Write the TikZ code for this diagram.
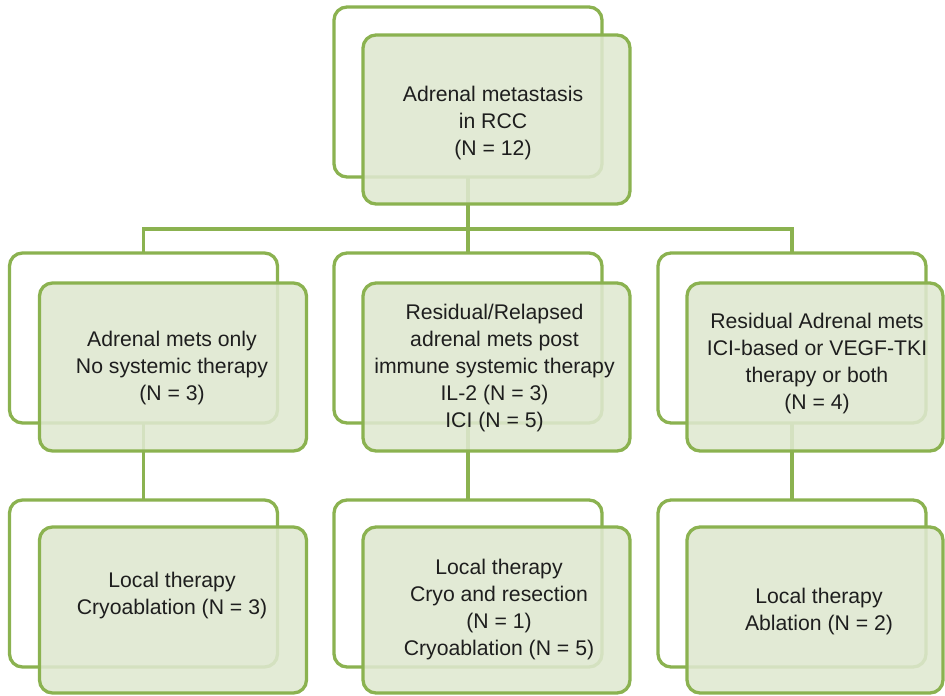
\documentclass[tikz,border=0pt]{standalone}
\usepackage{fontspec}
\setmainfont{Liberation Sans}
\definecolor{boxline}{RGB}{139,178,80}
\definecolor{boxfill}{RGB}{223,232,208}
\definecolor{txt}{RGB}{30,30,30}
\begin{document}
\begin{tikzpicture}[x=1pt,y=-1pt,
  backbox/.style={draw=boxline,line width=3.3pt,fill=white,rounded corners=13pt,
    rectangle,inner sep=0pt,outer sep=0pt,minimum width=268pt,minimum height=170pt},
  frontbox/.style={draw=boxline,line width=3.3pt,fill=boxfill,fill opacity=0.88,
    rounded corners=13pt,rectangle,inner sep=0pt,outer sep=0pt,
    minimum width=267pt,minimum height=168pt},
  label/.style={align=center,text=txt,inner sep=0pt,
    font=\fontsize{21.2}{27}\selectfont},
  conn/.style={draw=boxline,line width=3.3pt}]
\useasboundingbox (0,0) rectangle (945,696);
% back boxes
\node[backbox] (tb) at (468,92) {};
\node[backbox] (lb) at (143.5,338) {};
\node[backbox] (mb) at (468,338) {};
\node[backbox] (rb) at (792,338) {};
\node[backbox,minimum height=167pt] (blb) at (143.5,583.5) {};
\node[backbox,minimum height=167pt] (bmb) at (468,583.5) {};
\node[backbox,minimum height=167pt] (brb) at (792,583.5) {};
% connectors
\coordinate (bus) at (468,229);
\draw[conn] (tb.south) -- (bus);
\draw[conn] (lb.north) |- (bus) -| (rb.north);
\draw[conn] (bus) -- (mb.north);
\draw[conn] (lb.south) -- (blb.north);
\draw[conn] (mb.south) -- (bmb.north);
\draw[conn] (rb.south) -- (brb.north);
% front boxes
\node[frontbox,minimum height=169pt] (tf) at (496.5,119.5) {};
\node[frontbox] (lf) at (173,367) {};
\node[frontbox] (mf) at (496.5,367) {};
\node[frontbox,minimum width=256pt] (rf) at (815,367) {};
\node[frontbox,minimum height=166pt] (blf) at (173,610) {};
\node[frontbox,minimum height=166pt] (bmf) at (496.5,610) {};
\node[frontbox,minimum height=166pt,minimum width=256pt] (brf) at (815,610) {};
% texts
\node[label] (tt) at (493,123) {Adrenal metastasis\\in RCC\\(N = 12)};
\node[label] (lt) at (172,368) {Adrenal mets only\\No systemic therapy\\(N = 3)};
\node[label] (mt) at (494.5,368) {Residual/Relapsed\\adrenal mets post\\immune systemic therapy\\IL-2 (N = 3)\\ICI (N = 5)};
\node[label] (rt) at (817,364) {Residual Adrenal mets\\ICI-based or VEGF-TKI\\therapy or both\\(N = 4)};
\node[label] (blt) at (172,596) {Local therapy\\Cryoablation (N = 3)};
\node[label] (bmt) at (499,610) {Local therapy\\Cryo and resection\\(N = 1)\\Cryoablation (N = 5)};
\node[label] (brt) at (819,612) {Local therapy\\Ablation (N = 2)};
\end{tikzpicture}
\end{document}
